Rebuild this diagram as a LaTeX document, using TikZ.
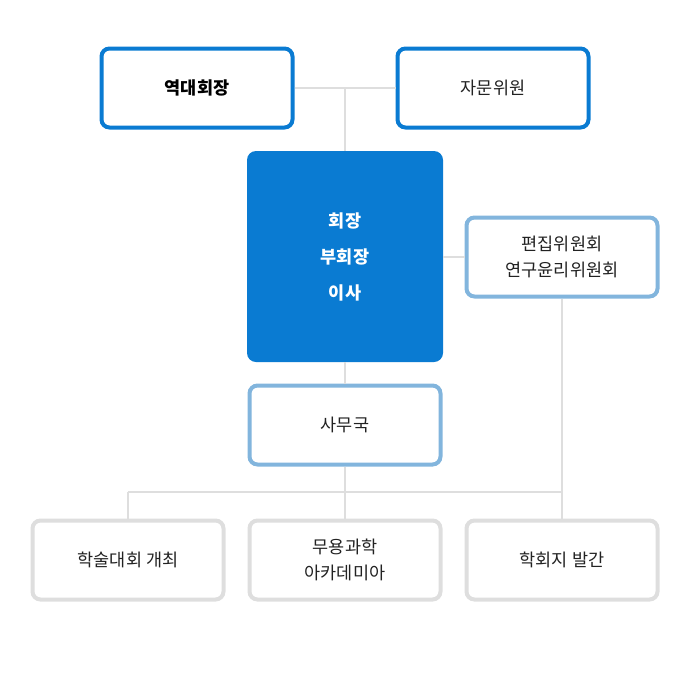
\documentclass[tikz,border=0pt]{standalone}
\usepackage{fontspec}
\setmainfont{Noto Sans CJK KR}
\definecolor{mainblue}{HTML}{0A7BD2}
\definecolor{paleblue}{HTML}{82B5DD}
\definecolor{boxgray}{HTML}{DEDEDE}
\definecolor{textgray}{HTML}{222222}
\begin{document}
\begin{tikzpicture}[x=1pt,y=-1pt,
	unit/.style={draw,line width=4pt,rounded corners=8pt,fill=white,minimum width=191pt,minimum height=79pt,align=center,font=\fontsize{17.5}{26}\selectfont,text=textgray},
	link/.style={draw=boxgray,line width=2pt}]
\useasboundingbox (0,0) rectangle (690,678);
\node[unit,draw=mainblue,text=black,font=\fontsize{17.5}{26}\selectfont\bfseries] (past) at (197,88) {역대회장};
\node[unit,draw=mainblue] (advise) at (493,88) {자문위원};
\node[fill=mainblue,rounded corners=9pt,minimum width=196pt,minimum height=211pt,align=center,text=white,font=\fontsize{17.5}{36}\selectfont\bfseries] (board) at (345,256.5) {회장\\부회장\\이사};
\node[unit,draw=paleblue] (edit) at (562,257) {편집위원회\\연구윤리위원회};
\node[unit,draw=paleblue] (office) at (345,425) {사무국};
\node[unit,draw=boxgray] (conf) at (128,560) {학술대회 개최};
\node[unit,draw=boxgray] (academy) at (345,560) {무용과학\\아카데미아};
\node[unit,draw=boxgray] (pub) at (562,560) {학회지 발간};
\coordinate (hub) at (345,492);
% connectors
\draw[link] (past.east) -- (advise.west);
\draw[link] (board.north |- past.east) -- (board.north);
\draw[link] (board.east |- edit.west) -- (edit.west);
\draw[link] (board.south) -- (office.north);
\draw[link] (office.south) -- (academy.north);
\draw[link] (conf.north |- hub) -- (pub.north |- hub);
\draw[link] (conf.north |- hub) -- (conf.north);
\draw[link] (edit.south) -- (pub.north);
\end{tikzpicture}
\end{document}
